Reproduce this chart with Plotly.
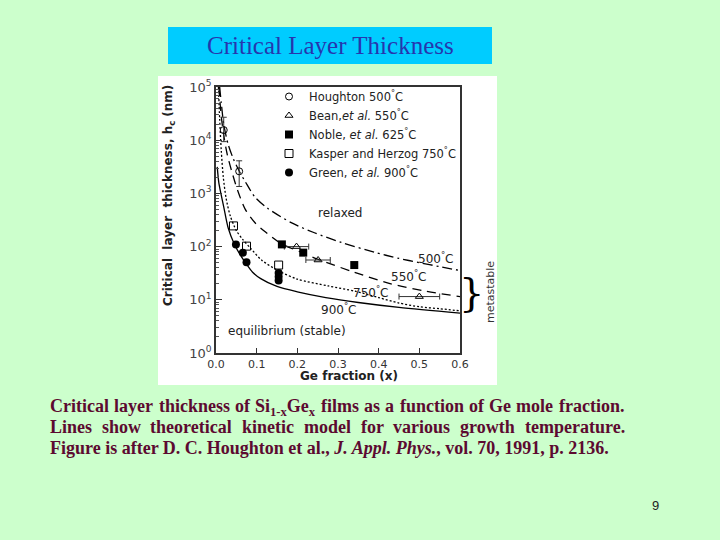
import plotly.graph_objects as go

# ---------------- data ----------------
# theoretical kinetic-model curves, h_c in nm
x_500 = [0.009, 0.013, 0.019, 0.03, 0.042, 0.057, 0.072, 0.096, 0.127, 0.185, 0.242, 0.308, 0.39, 0.45, 0.5, 0.55, 0.6]
h_500 = [100000, 50000, 20000, 8300, 4600, 2630, 1660, 850, 525, 282, 182, 120, 78, 60, 50, 42, 35.5]

x_550 = [0.007, 0.013, 0.02, 0.028, 0.04, 0.053, 0.072, 0.096, 0.121, 0.162, 0.21, 0.25, 0.34, 0.43, 0.51, 0.6]
h_550 = [100000, 28000, 11200, 5250, 2400, 1150, 500, 280, 190, 112, 78, 58, 33, 20, 14.8, 11.5]

x_750 = [0.006, 0.009, 0.013, 0.018, 0.025, 0.035, 0.05, 0.065, 0.084, 0.113, 0.154, 0.2, 0.276, 0.342, 0.4, 0.45, 0.5, 0.55, 0.6]
h_750 = [100000, 25000, 6300, 2000, 800, 380, 200, 138, 95, 55, 35, 24.5, 18.2, 14.5, 11, 8.7, 7.4, 6.8, 6.2]

x_900 = [0.003, 0.007, 0.012, 0.019, 0.03, 0.045, 0.06, 0.074, 0.09, 0.11, 0.15, 0.2, 0.27, 0.35, 0.45, 0.6]
h_900 = [3160, 1580, 1000, 560, 224, 112, 69, 48, 33, 25, 17.8, 14.1, 11, 8.9, 7.2, 5.6]

# measured data
houghton_x = [0.019, 0.057]
houghton_h = [15500, 2600]
houghton_err_plus = [11500, 1500]
houghton_err_minus = [6100, 1250]

bean_x = [0.198, 0.251, 0.50]
bean_h = [100, 56, 11.5]
bean_xerr = [0.03, 0.03, 0.05]

noble_x = [0.162, 0.2145, 0.340]
noble_h = [110, 77, 45]

kasper_x = [0.043, 0.075, 0.154]
kasper_h = [245, 102, 45]

green_x = [0.049, 0.066, 0.075, 0.154, 0.154, 0.154]
green_h = [110, 77, 51, 32, 27, 23]

y_tick_vals = [1, 10, 100, 1000, 10000, 100000]
y_tick_text = ["10<sup>0</sup>", "10<sup>1</sup>", "10<sup>2</sup>", "10<sup>3</sup>", "10<sup>4</sup>", "10<sup>5</sup>"]
y_minor_vals = [m * 10 ** k for k in range(5) for m in range(2, 10)]

legend_names = [
    "Houghton 500<sup>°</sup>C",
    "Bean,<i>et al.</i> 550<sup>°</sup>C",
    "Noble, <i>et al.</i> 625<sup>°</sup>C",
    "Kasper and Herzog 750<sup>°</sup>C",
    "Green, <i>et al.</i> 900<sup>°</sup>C",
]

# ---------------- figure ----------------
W, H = 720, 540
FONT = "DejaVu Sans"
fig = go.Figure()

line_kw = dict(color="black", width=1.3, shape="spline", smoothing=0.8)
fig.add_trace(go.Scatter(x=x_500, y=h_500, mode="lines", showlegend=False,
                         line=dict(dash="10px,4px,2px,4px", **line_kw), hoverinfo="skip"))
fig.add_trace(go.Scatter(x=x_550, y=h_550, mode="lines", showlegend=False,
                         line=dict(dash="9px,6px", **line_kw), hoverinfo="skip"))
fig.add_trace(go.Scatter(x=x_750, y=h_750, mode="lines", showlegend=False,
                         line=dict(dash="2px,2px", **line_kw), hoverinfo="skip"))
fig.add_trace(go.Scatter(x=x_900, y=h_900, mode="lines", showlegend=False,
                         line=dict(**line_kw), hoverinfo="skip"))

fig.add_trace(go.Scatter(x=houghton_x, y=houghton_h, mode="markers", name=legend_names[0],
                         marker=dict(symbol="circle-open", size=7, color="black", line=dict(width=1)),
                         error_y=dict(type="data", symmetric=False, array=houghton_err_plus,
                                      arrayminus=houghton_err_minus, color="#333", thickness=1, width=3)))
fig.add_trace(go.Scatter(x=bean_x, y=bean_h, mode="markers", name=legend_names[1],
                         marker=dict(symbol="triangle-up-open", size=7, color="black", line=dict(width=1)),
                         error_x=dict(type="data", array=bean_xerr, color="#333", thickness=1, width=3)))
fig.add_trace(go.Scatter(x=noble_x, y=noble_h, mode="markers", name=legend_names[2],
                         marker=dict(symbol="square", size=8, color="black")))
fig.add_trace(go.Scatter(x=kasper_x, y=kasper_h, mode="markers", name=legend_names[3],
                         marker=dict(symbol="square-open", size=8, color="black", line=dict(width=1))))
fig.add_trace(go.Scatter(x=green_x, y=green_h, mode="markers", name=legend_names[4],
                         marker=dict(symbol="circle", size=8, color="black")))

def px(x):
    return x / W

def py(y):
    return 1 - y / H

shapes = [
    dict(type="rect", xref="paper", yref="paper", x0=px(158), x1=px(497), y0=py(385), y1=py(76),
         fillcolor="white", line=dict(width=0), layer="below"),
    dict(type="rect", xref="paper", yref="paper", x0=px(168), x1=px(492), y0=py(64), y1=py(27),
         fillcolor="#00CCFF", line=dict(width=0), layer="below"),
]

ann = []
def add_paper(text, x, y, font, xanchor="center", yanchor="middle", **kw):
    ann.append(dict(text=text, xref="paper", yref="paper", x=px(x), y=py(y), xanchor=xanchor,
                    yanchor=yanchor, showarrow=False, font=font, **kw))

add_paper("Critical Layer Thickness", 330, 46, dict(family="Liberation Serif", size=25, color="#2636AE"))
# axis titles
add_paper("<b>Critical  layer  thickness, h<sub>c</sub> (nm)</b>", 169, 196,
          dict(family=FONT, size=12, color="#222"), textangle=-90)
add_paper("<b>Ge fraction (x)</b>", 349, 376, dict(family=FONT, size=12, color="#222"))
# curve labels (data coords)
lab_font = dict(family=FONT, size=12, color="#222")
for t, xx, ly in [("500<sup>°</sup>C", 0.540, 1.79), ("550<sup>°</sup>C", 0.4725, 1.44),
                  ("750<sup>°</sup>C", 0.380, 1.145), ("900<sup>°</sup>C", 0.30, 0.825),
                  ("relaxed", 0.306, 2.64), ("equilibrium (stable)", 0.174, 0.41)]:
    ann.append(dict(text=t, xref="x", yref="y", x=xx, y=ly, xanchor="center", yanchor="middle",
                    showarrow=False, font=lab_font))
# metastable + brace
add_paper("metastable", 490, 292, dict(family=FONT, size=11, color="#333"), textangle=-90)
add_paper("}", 471, 292, dict(family="DejaVu Serif", size=40, color="black"))

# caption (justified: one annotation per word on the first two lines)
cap_font = dict(family="Liberation Serif", size=18, color="#5C0A30")
line1_words = ["Critical", "layer", "thickness", "of", "Si<sub>1-x</sub>Ge<sub>x</sub>", "films", "as", "a",
               "function", "of", "Ge", "mole", "fraction."]
line1_x = [48, 112.3, 156.6, 232.9, 253.2, 318.6, 361.9, 383.2, 397.5, 466.8, 487.1, 514.4, 556.7]
for w_, xx in zip(line1_words, line1_x):
    add_paper("<b>" + w_ + "</b>", xx, 393.5, cap_font, xanchor="left", yanchor="top")
line2_words = ["Lines", "show", "theoretical", "kinetic", "model", "for", "various", "growth", "temperature."]
line2_x = [48, 99.7, 148.4, 240.1, 301.8, 358.5, 391.2, 457.9, 522.6]
for w_, xx in zip(line2_words, line2_x):
    add_paper("<b>" + w_ + "</b>", xx, 414.5, cap_font, xanchor="left", yanchor="top")
cap3 = "<b>Figure is after D. C. Houghton et al., <i>J. Appl. Phys.</i>, vol. 70, 1991, p. 2136.</b>"
add_paper(cap3, 48, 435.5, cap_font, xanchor="left", yanchor="top")
add_paper("9", 655, 505, dict(family="Liberation Sans", size=13, color="#222"))

fig.update_layout(
    width=W, height=H, autosize=False,
    margin=dict(l=0, r=0, t=0, b=0, pad=0, autoexpand=False),
    paper_bgcolor="#CCFFCC",
    plot_bgcolor="white",
    shapes=shapes,
    annotations=ann,
    showlegend=True,
    legend=dict(x=px(269), y=py(82), xanchor="left", yanchor="top", bgcolor="rgba(0,0,0,0)",
                font=dict(family=FONT, size=11.5, color="#222"), tracegroupgap=0),
    xaxis=dict(domain=[px(216), px(460)], range=[0, 0.6], dtick=0.1, tick0=0, tickformat=".1f",
               ticks="inside", ticklen=5, tickcolor="#333", showgrid=False, zeroline=False,
               showline=True, linecolor="#333", linewidth=1.5, mirror=True, automargin=False,
               tickfont=dict(family=FONT, size=11, color="#333")),
    yaxis=dict(domain=[py(353), py(87)], type="log", range=[0, 5],
               tickmode="array", tickvals=y_tick_vals, ticktext=y_tick_text,
               ticks="inside", ticklen=6, tickcolor="#333", showgrid=False, zeroline=False,
               showline=True, linecolor="#333", linewidth=1.5, mirror=True, automargin=False,
               tickfont=dict(family=FONT, size=13, color="#444"),
               minor=dict(tickmode="array", tickvals=y_minor_vals, ticks="inside", ticklen=3,
                          tickcolor="#555", showgrid=False)),
)

fig.write_html("out.html", config={"responsive": False, "displayModeBar": False},
               default_width="720px", default_height="540px",
               post_script="document.body.style.margin='0px';document.body.style.overflow='hidden';")
